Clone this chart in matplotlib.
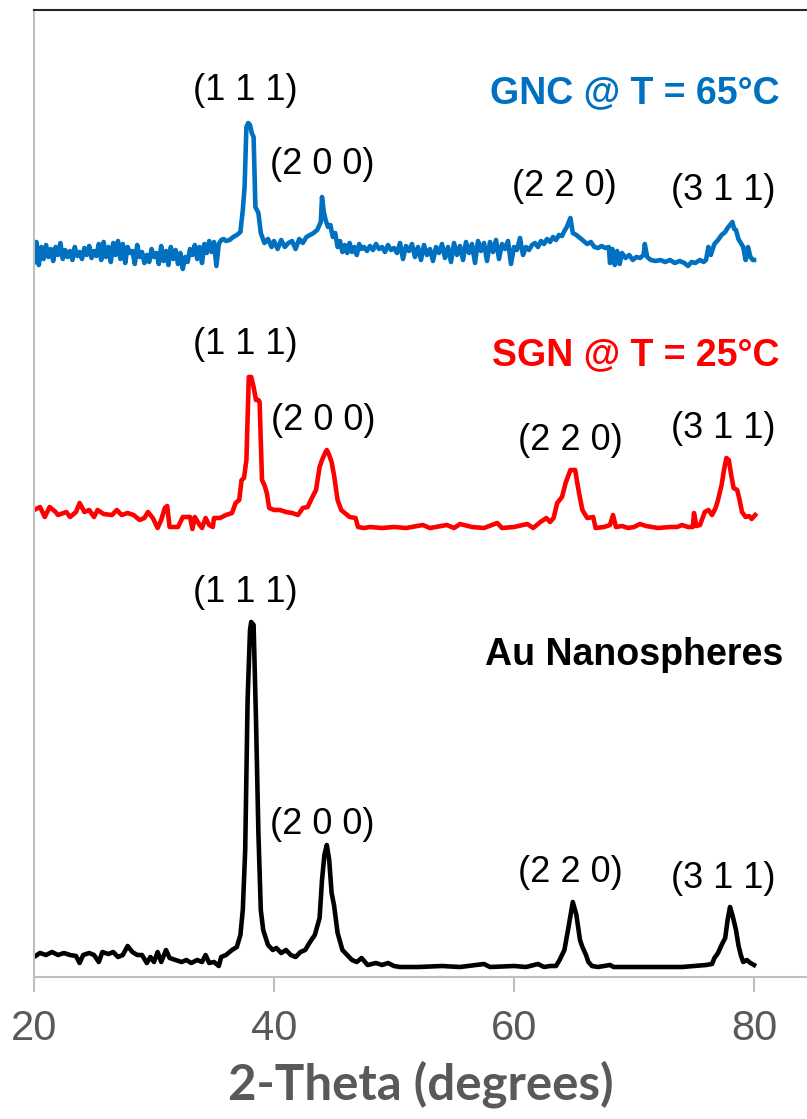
import matplotlib
matplotlib.use("Agg")
import matplotlib.pyplot as plt
import numpy as np

# ---------------- data (2-theta in degrees, intensity in a.u.) ----------------
au_x = [20.0, 20.5, 21.0, 21.5, 22.0, 22.5, 23.0, 23.5, 23.8, 24.1, 24.6, 25.0, 25.4, 25.7,
        26.2, 26.6, 27.0, 27.4, 27.8, 28.2, 28.6, 29.0, 29.4, 29.7, 30.0, 30.3, 30.6, 31.0,
        31.3, 31.8, 32.3, 32.7, 33.1, 33.6, 34.0, 34.3, 34.6, 35.0, 35.4, 35.6, 36.0, 36.5,
        36.9, 37.2, 37.4, 37.6, 37.8, 38.0, 38.1, 38.3, 38.5, 38.7, 38.9, 39.1, 39.5, 39.9,
        40.2, 40.6, 41.0, 41.4, 41.8, 42.2, 42.6, 43.0, 43.4, 43.8, 44.0, 44.2, 44.4, 44.6,
        44.8, 45.0, 45.3, 45.7, 46.1, 46.5, 46.9, 47.3, 47.8, 48.5, 49.0, 49.5, 50.0, 50.5,
        52.0, 54.0, 55.5, 57.5, 58.0, 60.0, 61.0, 62.0, 62.5, 63.0, 63.5, 63.8, 64.0, 64.2,
        64.5, 64.9, 65.2, 65.5, 65.7, 66.0, 66.2, 66.5, 67.0, 68.0, 68.3, 70.0, 72.0, 74.0,
        76.0, 76.5, 76.7, 77.0, 77.3, 77.6, 77.8, 78.0, 78.2, 78.5, 78.7, 78.9, 79.1, 79.4,
        79.7, 80.0]
au_y = [20, 24, 22, 25, 22, 24, 22, 21, 14, 22, 24, 22, 15, 25,
        23, 25, 20, 22, 31, 25, 22, 22, 14, 20, 15, 25, 15, 27,
        19, 17, 15, 17, 14, 17, 15, 22, 14, 15, 11, 20, 22, 27,
        30, 42, 67, 127, 277, 347, 355, 352, 257, 144, 67, 47, 32, 27,
        29, 24, 27, 22, 20, 25, 27, 35, 42, 59, 97, 122, 132, 117,
        84, 72, 44, 27, 22, 17, 15, 19, 12, 14, 12, 14, 11, 10,
        10, 11, 10, 13, 10, 11, 10, 13, 10, 11, 11, 17, 22, 27,
        47, 75, 62, 37, 30, 22, 15, 11, 10, 12, 10, 10, 10, 10,
        12, 13, 19, 24, 32, 39, 57, 70, 62, 47, 32, 22, 15, 17,
        14, 12]

sgn_x = [20.0, 20.5, 20.9, 21.3, 21.8, 22.0, 22.7, 23.0, 23.5, 23.8, 24.2, 24.6, 25.0, 25.3,
         25.8, 26.5, 26.9, 27.3, 27.8, 28.3, 28.8, 29.2, 29.5, 29.9, 30.3, 30.6, 30.9, 31.1,
         31.3, 32.0, 32.4, 33.0, 33.2, 33.4, 33.8, 34.0, 34.3, 34.6, 34.9, 35.0, 35.5, 36.0,
         36.5, 36.8, 37.1, 37.3, 37.5, 37.7, 37.9, 38.1, 38.3, 38.5, 38.7, 38.8, 39.0, 39.2,
         39.4, 39.6, 40.0, 40.5, 41.0, 41.5, 42.0, 42.4, 42.8, 43.2, 43.5, 43.8, 44.0, 44.3,
         44.4, 44.6, 44.8, 45.0, 45.3, 45.6, 45.9, 46.3, 46.8, 47.0, 47.5, 48.0, 49.0, 50.0,
         51.0, 52.4, 53.0, 54.4, 55.0, 55.5, 56.5, 57.5, 58.6, 59.0, 60.0, 61.1, 61.6, 62.2,
         62.7, 63.0, 63.3, 63.6, 64.0, 64.3, 64.7, 65.1, 65.3, 65.5, 65.7, 66.1, 66.6, 66.8,
         67.5, 68.0, 68.25, 68.5, 69.0, 69.5, 70.0, 70.5, 71.0, 72.0, 73.0, 73.6, 74.0, 74.5,
         74.9, 75.0, 75.2, 75.5, 75.9, 76.2, 76.5, 76.8, 77.0, 77.3, 77.5, 77.7, 77.9, 78.1,
         78.3, 78.6, 78.8, 79.0, 79.3, 79.6, 79.8, 80.1]
sgn_y = [27, 30, 20, 30, 25, 22, 25, 20, 25, 34, 25, 27, 20, 27,
         23, 22, 27, 22, 24, 22, 17, 19, 25, 19, 9, 17, 29, 31,
         10, 10, 20, 20, 8, 20, 12, 9, 19, 12, 10, 19, 19, 22,
         24, 34, 37, 57, 59, 77, 160, 160, 150, 137, 137, 135, 57, 52,
         44, 29, 27, 27, 25, 24, 22, 29, 30, 40, 47, 70, 77, 85,
         87, 82, 75, 62, 37, 27, 24, 20, 19, 10, 9, 10, 9, 10,
         9, 12, 9, 12, 9, 13, 10, 9, 14, 9, 10, 13, 9, 15,
         19, 15, 19, 34, 40, 54, 67, 67, 52, 39, 27, 19, 20, 9,
         10, 12, 22, 10, 11, 9, 10, 13, 11, 9, 10, 10, 12, 10,
         10, 24, 11, 12, 25, 27, 22, 29, 37, 52, 67, 79, 77, 62,
         49, 47, 37, 25, 20, 21, 18, 22]

gnc_x = [20.0, 20.2, 20.4, 20.6, 20.8, 21.0, 21.2, 21.4, 21.6, 21.8, 22.0, 22.2, 22.4, 22.6,
         22.8, 23.0, 23.2, 23.4, 23.6, 23.8, 24.0, 24.2, 24.4, 24.6, 24.8, 25.0, 25.2, 25.4,
         25.6, 25.8, 26.0, 26.2, 26.4, 26.6, 26.8, 27.0, 27.2, 27.4, 27.6, 27.8, 28.0, 28.2,
         28.4, 28.6, 28.8, 29.0, 29.2, 29.4, 29.6, 29.8, 30.0, 30.2, 30.4, 30.6, 30.8, 31.0,
         31.2, 31.4, 31.6, 31.8, 32.0, 32.2, 32.4, 32.6, 32.8, 33.0, 33.2, 33.4, 33.6, 33.8,
         34.0, 34.2, 34.4, 34.6, 34.8, 35.0, 35.2, 35.4, 35.6, 35.8, 36.0, 36.3, 36.6, 36.9,
         37.2, 37.4, 37.55, 37.7, 37.85, 38.0, 38.15, 38.3, 38.45, 38.7, 38.9, 39.2, 39.5, 39.8,
         40.0, 40.3, 40.6, 40.9, 41.2, 41.5, 41.8, 42.1, 42.4, 42.7, 43.0, 43.3, 43.6, 43.9,
         44.0, 44.15, 44.3, 44.5, 44.7, 44.9, 45.1, 45.3, 45.5, 45.7, 45.9, 46.1, 46.3, 46.5,
         46.7, 46.9, 47.1, 47.3, 47.5, 47.75, 48.0, 48.25, 48.5, 48.75, 49.0, 49.25, 49.5, 49.75,
         50.0, 50.25, 50.5, 50.75, 51.0, 51.25, 51.5, 51.75, 52.0, 52.25, 52.5, 52.75, 53.0, 53.25,
         53.5, 53.75, 54.0, 54.25, 54.5, 54.75, 55.0, 55.25, 55.5, 55.75, 56.0, 56.25, 56.5, 56.75,
         57.0, 57.25, 57.5, 57.75, 58.0, 58.25, 58.5, 58.75, 59.0, 59.25, 59.5, 59.75, 60.0, 60.25,
         60.5, 60.75, 61.0, 61.25, 61.5, 61.75, 62.0, 62.25, 62.5, 62.75, 63.0, 63.25, 63.5, 63.75,
         64.0, 64.2, 64.4, 64.7, 64.9, 65.2, 65.5, 65.8, 66.1, 66.4, 66.7, 67.0, 67.3, 67.6,
         67.9, 68.0, 68.2, 68.4, 68.6, 68.8, 69.0, 69.3, 69.6, 69.9, 70.2, 70.5, 70.8, 70.9,
         71.1, 71.4, 71.8, 72.2, 72.6, 73.0, 73.4, 73.8, 74.2, 74.5, 74.8, 75.1, 75.5, 75.8,
         76.0, 76.2, 76.4, 76.7, 77.0, 77.3, 77.6, 77.8, 78.0, 78.2, 78.35, 78.5, 78.7, 78.9,
         79.1, 79.3, 79.4, 79.5, 79.7, 79.9, 80.0]
gnc_y = [15, 35, 12, 30, 18, 32, 20, 28, 16, 30, 22, 34, 18, 27,
         20, 26, 17, 30, 21, 25, 18, 29, 22, 31, 19, 26, 21, 33,
         17, 35, 20, 30, 15, 34, 22, 36, 18, 33, 14, 30, 24, 26,
         13, 32, 20, 25, 14, 22, 15, 28, 20, 24, 13, 31, 16, 26,
         12, 30, 18, 27, 13, 24, 8, 20, 15, 28, 22, 32, 18, 30,
         14, 33, 24, 36, 25, 35, 11, 33, 37, 38, 36, 37, 40, 42,
         45, 67, 90, 150, 154, 152, 144, 140, 70, 64, 44, 34, 38, 30,
         36, 28, 37, 30, 34, 36, 28, 38, 34, 40, 42, 44, 47, 55,
         80, 65, 57, 50, 52, 40, 44, 30, 36, 25, 32, 24, 34, 25,
         30, 22, 33, 28, 30, 26, 31, 27, 33, 28, 30, 25, 32, 27,
         29, 24, 34, 18, 31, 26, 33, 20, 30, 17, 32, 22, 28, 16,
         30, 24, 33, 19, 30, 15, 34, 22, 31, 17, 35, 24, 33, 14,
         36, 26, 34, 16, 35, 25, 37, 18, 33, 28, 36, 13, 30, 27,
         39, 22, 30, 27, 32, 34, 30, 36, 33, 38, 35, 40, 37, 42,
         41, 46, 50, 59, 44, 42, 39, 36, 33, 35, 30, 29, 31, 29,
         30, 14, 28, 12, 26, 13, 24, 19, 22, 17, 20, 19, 22, 33,
         20, 17, 16, 17, 15, 17, 14, 16, 14, 11, 15, 14, 17, 15,
         17, 30, 22, 33, 37, 42, 45, 49, 52, 55, 48, 47, 38, 34,
         30, 17, 22, 30, 20, 17, 17]

# vertical offsets of the stacked patterns
offsets = {"au": 0, "sgn": 440, "gnc": 700}

peak_labels = ["(1 1 1)", "(2 0 0)", "(2 2 0)", "(3 1 1)"]
series_names = ["GNC @ T = 65°C", "SGN @ T = 25°C", "Au Nanospheres"]
x_ticks = [20, 40, 60, 80]

# ---------------- figure ----------------
W, H = 807, 1119
fig = plt.figure(figsize=(W / 100, H / 100), dpi=100)
ax_left, ax_right, ax_bottom, ax_top = 34, 807, 977, 10
ax = fig.add_axes([ax_left / W, (H - ax_bottom) / H,
                   (ax_right - ax_left) / W, (ax_bottom - ax_top) / H])
ax.set_xlim(20, 20 + (ax_right - ax_left) / 12.0)
ax.set_ylim(0, ax_bottom - ax_top)

lw = 3.3
ax.plot(au_x, np.array(au_y) + offsets["au"], color="black", lw=lw, solid_joinstyle="round")
ax.plot(sgn_x, np.array(sgn_y) + offsets["sgn"], color="#FF0000", lw=lw, solid_joinstyle="round")
ax.plot(gnc_x, np.array(gnc_y) + offsets["gnc"], color="#0070C0", lw=lw, solid_joinstyle="round")

# spines
for s in ["left", "bottom"]:
    ax.spines[s].set_color("#BFBFBF")
    ax.spines[s].set_linewidth(1.5)
ax.spines["top"].set_color("#262626")
ax.spines["top"].set_linewidth(1.5)
ax.spines["right"].set_visible(False)

ax.set_yticks([])
ax.set_xticks(x_ticks)
ax.set_xticklabels([str(t) for t in x_ticks])
ax.tick_params(axis="x", direction="out", length=11, width=1.5, color="#BFBFBF",
               labelsize=30, labelcolor="#595959", pad=12)
for lab in ax.get_xticklabels():
    lab.set_fontfamily("Liberation Sans")

ax.set_xlabel("2-Theta (degrees)", fontsize=35.5, fontweight="bold", color="#595959",
              fontfamily="Lato", labelpad=8)

def py(ypix):
    return ax_bottom - ypix

lab_kw = dict(fontsize=26, fontfamily="Liberation Sans", color="black",
              ha="center", va="center")
# GNC peak labels
ax.text(37.6, py(90), peak_labels[0], **lab_kw)
ax.text(44.0, py(165), peak_labels[1], **lab_kw)
ax.text(64.2, py(187), peak_labels[2], **lab_kw)
ax.text(77.4, py(190), peak_labels[3], **lab_kw)
# SGN peak labels
ax.text(37.6, py(345), peak_labels[0], **lab_kw)
ax.text(44.1, py(420), peak_labels[1], **lab_kw)
ax.text(64.7, py(440), peak_labels[2], **lab_kw)
ax.text(77.4, py(428), peak_labels[3], **lab_kw)
# Au peak labels
ax.text(37.6, py(592), peak_labels[0], **lab_kw)
ax.text(44.0, py(825), peak_labels[1], **lab_kw)
ax.text(64.7, py(873), peak_labels[2], **lab_kw)
ax.text(77.4, py(878), peak_labels[3], **lab_kw)

name_kw = dict(fontsize=27, fontweight="bold", fontfamily="Liberation Sans",
               ha="right", va="center")
xr = 20 + (780 - ax_left) / 12.0
ax.text(xr, py(93), series_names[0], color="#0070C0", **name_kw)
ax.text(xr, py(355), series_names[1], color="#FF0000", **name_kw)
ax.text(20 + (783 - ax_left) / 12.0, py(655), series_names[2], color="black", **name_kw)

fig.savefig("out.png", dpi=100)
